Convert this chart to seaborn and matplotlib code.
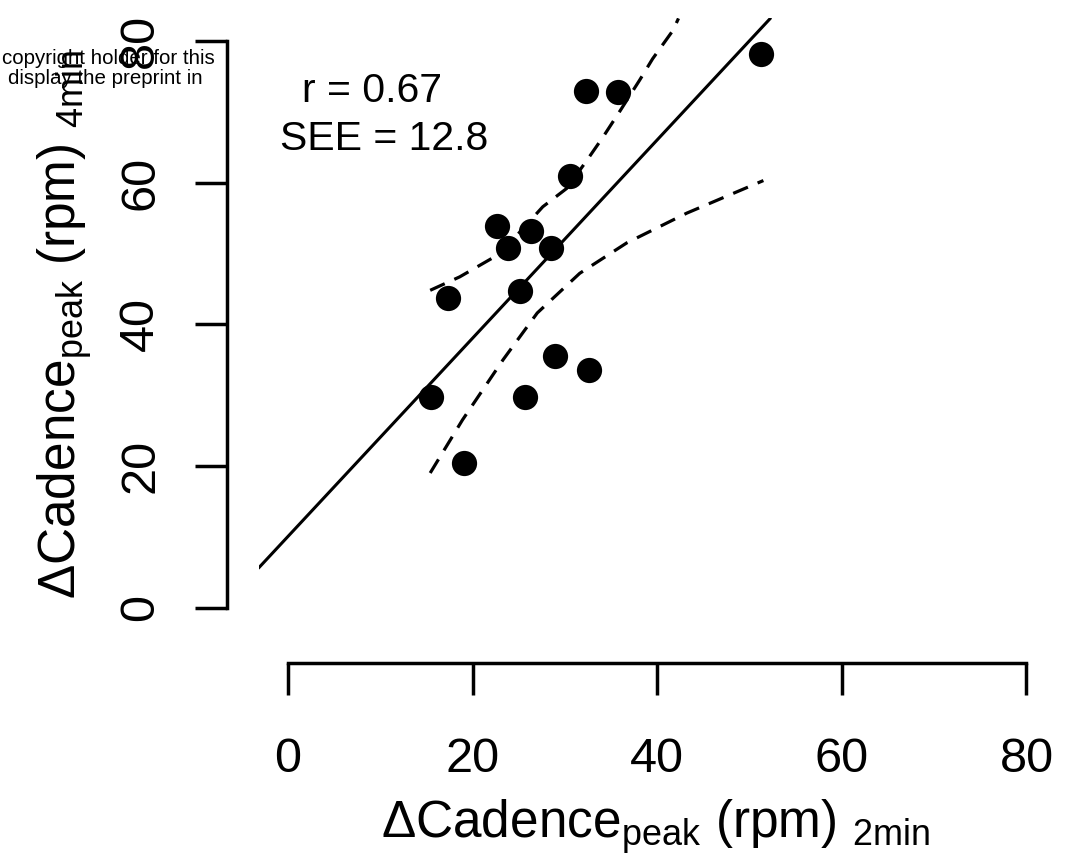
import numpy as np
import pandas as pd
import seaborn as sns
import matplotlib.pyplot as plt

# Werte (rpm)
cad_2min = [51.2, 32.3, 35.7, 30.5, 22.6, 26.3, 23.8, 28.5, 17.3, 25.1, 28.9, 32.6, 15.5, 25.7, 19.1]
cad_4min = [78.2, 73.0, 72.8, 60.9, 53.9, 53.2, 50.8, 50.8, 43.7, 44.7, 35.5, 33.6, 29.8, 29.8, 20.4]

# Regressionsgerade
fit_intercept = 10.05
fit_slope = 1.40

# gestrichelte Grenzen
upper_x = [15.4, 18.6, 23.0, 27.6, 30.2, 32.4, 34.1, 36.0, 38.1, 39.5, 41.7, 42.3]
upper_y = [44.8, 46.7, 50.0, 56.6, 59.2, 63.2, 66.4, 70.2, 74.5, 77.5, 81.5, 83.2]
lower_x = [15.4, 18.9, 23.3, 27.0, 31.6, 36.7, 43.2, 51.5]
lower_y = [19.0, 26.5, 35.0, 41.6, 47.2, 51.5, 55.7, 60.3]

ticks = [0, 20, 40, 60, 80]
stats_text = ["r = 0.67", "SEE = 12.8"]
header_lines = ["copyright holder for this", "display the preprint in"]

df = pd.DataFrame({"x": cad_2min, "y": cad_4min})

sns.set_style("ticks", {"axes.edgecolor": "black", "xtick.color": "black",
                        "ytick.color": "black", "text.color": "black",
                        "axes.labelcolor": "black"})
plt.rcParams['font.family'] = ['Liberation Sans', 'DejaVu Sans']
plt.rcParams['mathtext.fontset'] = 'custom'
plt.rcParams['mathtext.rm'] = 'Liberation Sans'
plt.rcParams['mathtext.it'] = 'Liberation Sans'
plt.rcParams['mathtext.default'] = 'regular'

W, H = 1083, 867
fig = plt.figure(figsize=(W / 100, H / 100), dpi=100)
ax = fig.add_axes([258.5 / W, 1 - 630.2 / H, 797.5 / W, 611.8 / H])

ax.axline((0, fit_intercept), slope=fit_slope, color="black", lw=2.2, zorder=2)
sns.lineplot(x=upper_x, y=upper_y, sort=False, estimator=None, color="black",
             lw=2.3, linestyle=(0, (5, 3.3)), ax=ax)
sns.lineplot(x=lower_x, y=lower_y, sort=False, estimator=None, color="black",
             lw=2.3, linestyle=(0, (5, 3.3)), ax=ax)
sns.scatterplot(data=df, x="x", y="y", color="black", s=330, linewidth=0, ax=ax, zorder=3)

ax.set_xlim(-3.2, 83.2)
ax.set_ylim(-3.2, 83.2)
ax.set_xticks(ticks)
ax.set_yticks(ticks)
ax.set_xlabel("")
ax.set_ylabel("")

for s in ["top", "right"]:
    ax.spines[s].set_visible(False)
ax.spines["left"].set_position(("outward", 22.7))
ax.spines["bottom"].set_position(("outward", 23.6))
for s in ["left", "bottom"]:
    ax.spines[s].set_bounds(0, 80)
    ax.spines[s].set_linewidth(2.5)

ax.tick_params(axis="both", length=23, width=2.5, labelsize=35, direction="out")
ax.tick_params(axis="x", pad=30)
ax.tick_params(axis="y", pad=23, labelrotation=90)
for lab in ax.get_yticklabels():
    lab.set_va("center")

ax.text(1.5, 71.4, stats_text[0], fontsize=29.5, ha="left", va="baseline")
ax.text(-0.87, 64.6, stats_text[1], fontsize=29.5, ha="left", va="baseline")

fig.text(656 / W, 1 - 838 / H, "ΔCadence$_{peak}$ (rpm) $_{2min}$", fontsize=37,
         ha="center", va="baseline", rotation_mode="anchor")
fig.text(76 / W, 1 - 324 / H, "ΔCadence$_{peak}$ (rpm) $_{4min}$", fontsize=37,
         ha="center", va="baseline", rotation=90, rotation_mode="anchor")

fig.text(215 / W, 1 - 63.5 / H, header_lines[0], fontsize=14.8, ha="right", va="baseline")
fig.text(203 / W, 1 - 83.5 / H, header_lines[1], fontsize=14.8, ha="right", va="baseline")

fig.savefig("out.png", dpi=100)
